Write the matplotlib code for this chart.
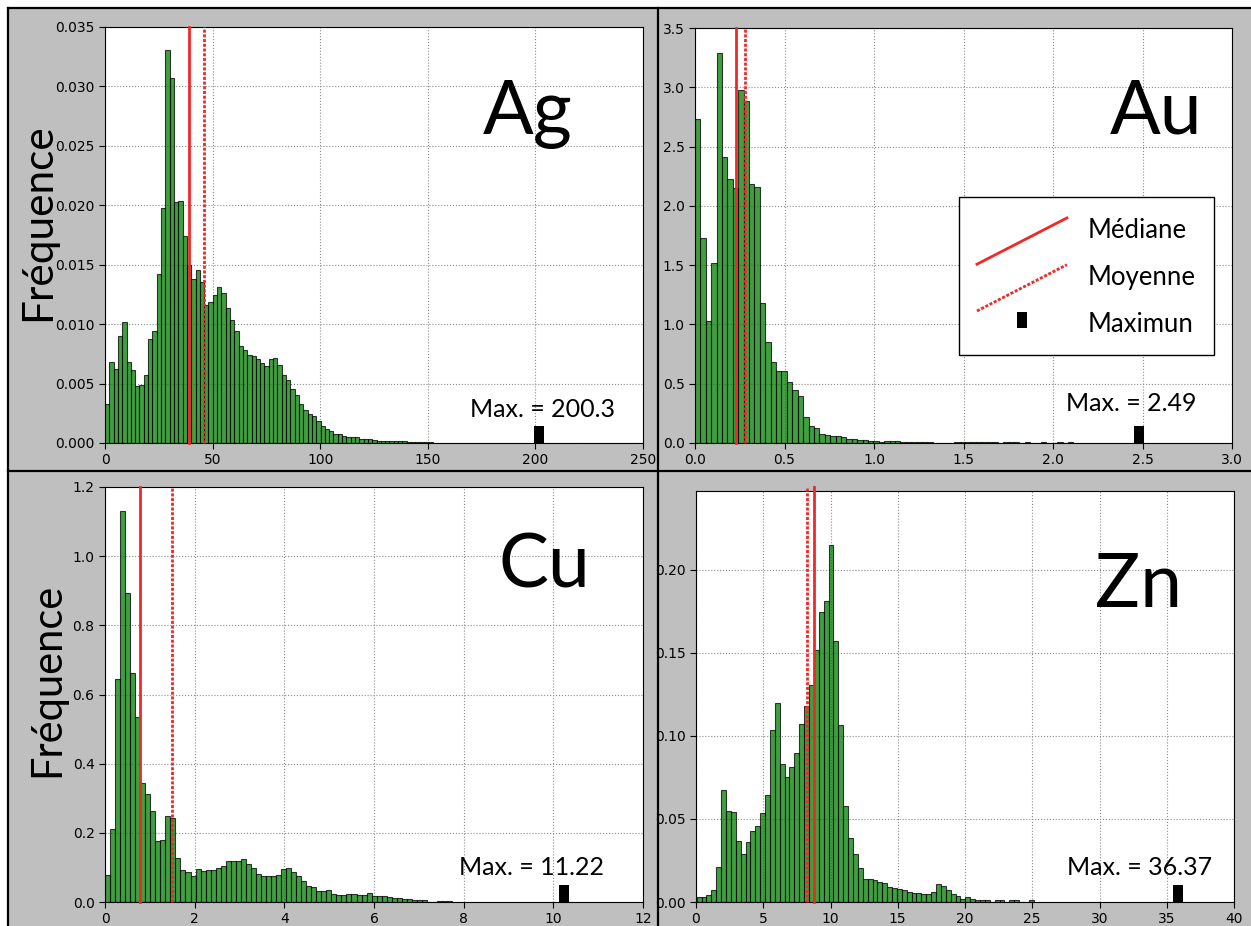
import matplotlib
matplotlib.use("Agg")
import matplotlib.pyplot as plt
from matplotlib.lines import Line2D
from matplotlib.patches import Rectangle
from matplotlib.path import Path
from matplotlib.ticker import MultipleLocator
from matplotlib.legend_handler import HandlerLine2D

# ------------------------------------------------------------------ données

ELEMENTS = ["Ag", "Au", "Cu", "Zn"]

# fréquences des classes de l'histogramme, une liste par élément
AG_FREQ = [0.00326, 0.00683, 0.00626, 0.00899, 0.01017, 0.00683, 0.00618, 0.00483, 0.00492, 0.0057,
           0.00879, 0.00944, 0.01419, 0.0198, 0.03303, 0.0307, 0.02025, 0.02034, 0.01742, 0.01497,
           0.01382, 0.01452, 0.01351, 0.0116, 0.01188, 0.01242, 0.01309, 0.01264, 0.01132, 0.01034,
           0.00944, 0.00815, 0.00781, 0.00744, 0.0073, 0.00708, 0.00674, 0.00652, 0.00708, 0.00719,
           0.0066, 0.00576, 0.00528, 0.00455, 0.00407, 0.00326, 0.00275, 0.00247, 0.00225, 0.00183,
           0.00143, 0.00121, 0.00098, 0.00079, 0.00079, 0.00056, 0.00048, 0.00048, 0.00048, 0.00037,
           0.00037, 0.00037, 0.00022, 0.0002, 0.0002, 0.0002, 0.0002, 0.0002, 0.00018, 0.00015,
           0.00012, 0.00012, 0.0001, 0.00005, 0.00012, 0.00005]
AU_FREQ = [2.736, 1.730, 1.031, 1.522, 3.292, 2.413, 2.230, 2.149, 2.975, 2.885,
           2.185, 2.157, 1.177, 0.851, 0.680, 0.607, 0.607, 0.514, 0.444, 0.399,
           0.216, 0.146, 0.124, 0.079, 0.070, 0.062, 0.056, 0.048, 0.037, 0.037,
           0.022, 0.028, 0.017, 0.014, 0.008, 0.017, 0.017, 0.017, 0.008, 0.008,
           0.006, 0.006, 0.005, 0.005, 0.004, 0.004, 0.003, 0.004, 0.006, 0.006,
           0.006, 0.006, 0.006, 0.006, 0.006, 0.006, 0.0, 0.006, 0.006, 0.006,
           0.0, 0.006, 0.0, 0.0, 0.006, 0.0, 0.0, 0.006, 0.0, 0.006]
CU_FREQ = [0.077, 0.210, 0.644, 1.131, 0.893, 0.662, 0.535, 0.344, 0.313, 0.264,
           0.175, 0.178, 0.248, 0.242, 0.127, 0.093, 0.087, 0.074, 0.096, 0.091,
           0.093, 0.093, 0.099, 0.105, 0.119, 0.119, 0.119, 0.124, 0.109, 0.099,
           0.081, 0.074, 0.074, 0.074, 0.077, 0.094, 0.099, 0.088, 0.074, 0.060,
           0.046, 0.043, 0.031, 0.031, 0.034, 0.024, 0.021, 0.021, 0.024, 0.024,
           0.021, 0.021, 0.026, 0.016, 0.016, 0.016, 0.014, 0.013, 0.011, 0.009,
           0.008, 0.007, 0.006, 0.005, 0.0, 0.0, 0.003, 0.003, 0.003]
ZN_FREQ = [0.003, 0.003, 0.0044, 0.0074, 0.0211, 0.0674, 0.0549, 0.0539, 0.0368, 0.0292,
           0.0362, 0.0427, 0.0459, 0.0533, 0.0642, 0.1034, 0.1201, 0.0831, 0.0755, 0.0811,
           0.0895, 0.1072, 0.1183, 0.1304, 0.1515, 0.1746, 0.1813, 0.2147, 0.1569, 0.1064,
           0.0577, 0.0388, 0.0292, 0.0207, 0.0141, 0.0141, 0.0131, 0.0121, 0.0117, 0.0091,
           0.0087, 0.0080, 0.0074, 0.0060, 0.0056, 0.0056, 0.0050, 0.0050, 0.0060, 0.0111,
           0.0099, 0.0070, 0.0050, 0.0034, 0.0020, 0.0030, 0.0020, 0.0015, 0.0014, 0.0014,
           0.0, 0.0014, 0.0014, 0.0, 0.0012, 0.0012, 0.0, 0.0, 0.001]
FREQS = [AG_FREQ, AU_FREQ, CU_FREQ, ZN_FREQ]

BIN_START = [0.0, 0.0, 0.0, 0.05]
BIN_WIDTH = [2.003, 0.0302, 0.1122, 0.3632]

MEDIANES = [38.9, 0.230, 0.78, 8.75]
MOYENNES = [46.0, 0.277, 1.49, 8.28]
MAXIMUMS = ["200.3", "2.49", "11.22", "36.37"]
MAX_POS = [201.7, 2.48, 10.24, 35.83]      # position du repère noir

XLIM = [250, 3.0, 12, 40]
YLIM = [0.035, 3.5, 1.2, 0.2475]
XSTEP = [50, 0.5, 2, 5]
YSTEP = [0.005, 0.5, 0.2, 0.05]

# ------------------------------------------------------------------ mise en page (pixels)

W, H, DPI = 1251, 926, 100
# left, top, right, bottom des axes
AX_PX = [(105, 27, 643, 443), (695, 28, 1232, 443),
         (105, 487, 643, 902), (696, 491, 1234, 902)]
NOM_POS = [(0.785, 0.742), (0.859, 0.745), (0.817, 0.759), (0.823, 0.718)]
MAX_TXT_POS = [(0.814, 0.0625), (0.813, 0.076), (0.792, 0.065), (0.825, 0.066)]
YLABEL_POS = {0: (-0.089, 0.531), 2: (-0.0725, 0.535)}
VLINE_TOP = [1.0, 1.0, 1.0, 1.01]

ROUGE = "#f02828"
POLICE = "Lato"

# marqueurs rectangulaires (maximum)
RECT_BAS = Path([(-0.29, 0), (0.29, 0), (0.29, 1), (-0.29, 1), (-0.29, 0)], closed=True)
RECT_CENTRE = Path([(-0.58, -1), (0.58, -1), (0.58, 1), (-0.58, 1), (-0.58, -1)], closed=True)


class HandlerDiagonale(HandlerLine2D):
    """Ligne de légende en diagonale."""
    def create_artists(self, legend, orig_handle, xdescent, ydescent,
                       width, height, fontsize, trans):
        x0 = -xdescent
        yc = -0.12 * fontsize
        dy = 0.9 * fontsize
        line = Line2D([x0, x0 + width], [yc - dy, yc + dy])
        self.update_prop(line, orig_handle, legend)
        line.set_transform(trans)
        return [line]


fig = plt.figure(figsize=(W / DPI, H / DPI), dpi=DPI, facecolor="#bfbfbf")


def fx(px):
    return px / W


def fy(py):
    return 1 - py / H


# bandes blanches et traits noirs de séparation
fig.add_artist(Rectangle((0, 0), fx(7), 1, transform=fig.transFigure, color="white", zorder=0))
fig.add_artist(Rectangle((0, fy(7)), 1, 1 - fy(7), transform=fig.transFigure, color="white", zorder=0))
for (x0, y0, x1, y1) in [(8, 8, 8, 926), (8, 8, 1251, 8), (658, 8, 658, 926), (8, 471, 1251, 471)]:
    fig.add_artist(Line2D([fx(x0), fx(x1)], [fy(y0), fy(y1)], transform=fig.transFigure,
                          color="black", lw=1.6, zorder=5))

for i, nom in enumerate(ELEMENTS):
    l, t, r, b = AX_PX[i]
    ax = fig.add_axes([fx(l), fy(b), (r - l) / W, (b - t) / H])
    ax.set_facecolor("white")

    freq = FREQS[i]
    lefts = [BIN_START[i] + k * BIN_WIDTH[i] for k in range(len(freq))]
    ax.bar(lefts, freq, width=BIN_WIDTH[i], align="edge", color="green", alpha=0.75,
           edgecolor="black", linewidth=0.8, zorder=2)

    ax.axvline(MEDIANES[i], ymax=VLINE_TOP[i], color=ROUGE, lw=2.0, zorder=3, clip_on=False)
    ax.axvline(MOYENNES[i], ymax=VLINE_TOP[i], color=ROUGE, lw=2.0, dashes=(1.1, 0.6),
               zorder=3, clip_on=False)
    ax.plot([MAX_POS[i]], [0], ls="none", marker=RECT_BAS, ms=24.5, mew=0,
            color="black", zorder=4, clip_on=False)

    ax.set_xlim(0, XLIM[i])
    ax.set_ylim(0, YLIM[i])
    ax.xaxis.set_major_locator(MultipleLocator(XSTEP[i]))
    ax.yaxis.set_major_locator(MultipleLocator(YSTEP[i]))
    ax.grid(True, color="0.55", ls=":", lw=0.8, zorder=1)
    ax.set_axisbelow(True)
    ax.tick_params(labelsize=10, length=4, direction="out", top=False, right=False)

    ax.text(NOM_POS[i][0], NOM_POS[i][1], nom, transform=ax.transAxes,
            ha="center", va="baseline", fontsize=54, family=POLICE)
    ax.text(MAX_TXT_POS[i][0], MAX_TXT_POS[i][1], "Max. = " + MAXIMUMS[i],
            transform=ax.transAxes, ha="center", va="baseline", fontsize=18, family=POLICE)

    if i in YLABEL_POS:
        ax.set_ylabel("Fréquence", fontsize=30.5 if i == 0 else 30, family=POLICE)
        ax.yaxis.set_label_coords(*YLABEL_POS[i])

    if nom == "Au":
        poignees = [Line2D([], [], color=ROUGE, lw=2.0),
                    Line2D([], [], color=ROUGE, lw=2.0, dashes=(1.1, 0.6)),
                    Line2D([], [], ls="none", marker=RECT_CENTRE, ms=12.2, mew=0, color="black")]
        leg = ax.legend(poignees, ["Médiane", "Moyenne", "Maximun"],
                        loc="upper left", bbox_to_anchor=(0.4916, 0.5918), borderaxespad=0,
                        prop={"family": POLICE, "size": 18.5}, handlelength=3.5,
                        handleheight=1.3, handletextpad=0.82, labelspacing=0.73,
                        borderpad=0.70, fancybox=False, framealpha=1, edgecolor="black",
                        handler_map={poignees[0]: HandlerDiagonale(),
                                     poignees[1]: HandlerDiagonale()})
        leg.get_frame().set_linewidth(1.0)
        leg.set_zorder(6)

fig.savefig("out.png", dpi=DPI, facecolor=fig.get_facecolor())
